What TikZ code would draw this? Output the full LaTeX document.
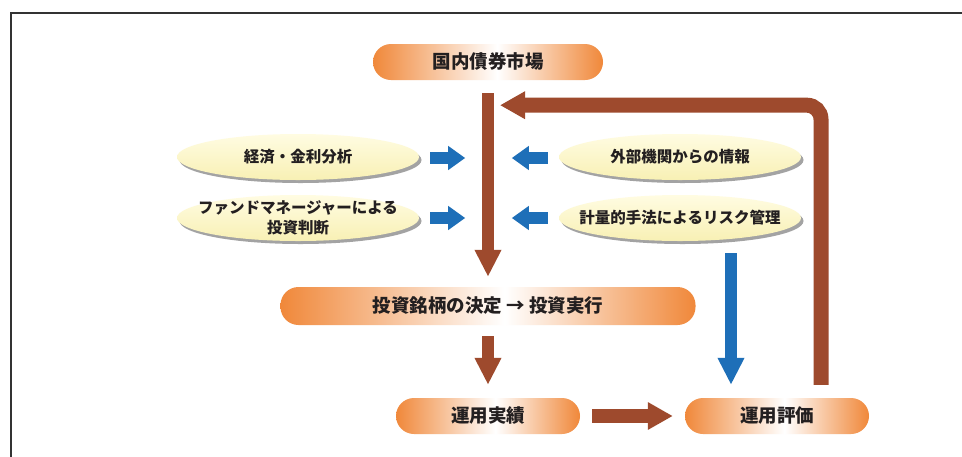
\documentclass[tikz,border=0pt]{standalone}
\usepackage{fontspec}
\newfontfamily\jp{Noto Sans CJK JP}
\usetikzlibrary{shapes.geometric,arrows.meta,calc,shadows}
\definecolor{pillor}{HTML}{F0883A}
\definecolor{brownar}{HTML}{9E4A2D}
\definecolor{bluear}{HTML}{1E6FB8}
\definecolor{txt}{HTML}{231F20}
\definecolor{elltop}{HTML}{FFFCE2}
\definecolor{ellbot}{HTML}{F8F0B4}
\definecolor{ellshadow}{HTML}{A3A3A3}
\definecolor{framec}{HTML}{333333}
\pgfdeclarehorizontalshading{pillshade}{100bp}{color(0bp)=(pillor); color(25bp)=(pillor); color(52bp)=(white); color(75bp)=(pillor); color(100bp)=(pillor)}
\begin{document}
\begin{tikzpicture}[x=1pt,y=-1pt,
  pill/.style={rectangle, shading=pillshade, rounded corners=18pt, minimum height=36pt, inner sep=0pt, text=txt, font=\jp\fontsize{18.5}{20}\selectfont\bfseries},
  oval/.style={ellipse, top color=elltop, bottom color=ellbot, minimum width=242pt, minimum height=46pt, inner xsep=-80pt, inner ysep=-20pt, align=center, text=txt, font=\jp\fontsize{15.5}{18}\selectfont\bfseries, general shadow={fill=ellshadow, shadow xshift=2.5pt, shadow yshift=-3pt}},
  barrow/.style={draw=brownar, line width=12pt, -{Triangle[length=27pt,width=25pt]}},
  bluedown/.style={draw=bluear, line width=12pt, -{Triangle[length=27pt,width=25pt]}},
  bluearrow/.style={draw=bluear, line width=12pt, -{Triangle[length=17pt,width=23pt]}},
  retarrow/.style={draw=brownar, line width=15pt, rounded corners=14pt, -{Triangle[length=25pt,width=26pt]}},
  harrow/.style={draw=brownar, line width=14pt, -{Triangle[length=25pt,width=26pt]}}
]
\useasboundingbox (0,0) rectangle (962,456);
\fill[white] (0,0) rectangle (962,456);
\draw[line width=2pt, framec] (11,470) -- (11,13) -- (975,13);

\node[pill, minimum width=230pt] (top) at (488,62) {国内債券市場};
\node[pill, minimum width=415pt, minimum height=38pt] (exec) at (488,306) {投資銘柄の決定 → 投資実行};
\node[pill, minimum width=184pt] (perf) at (488,416) {運用実績};
\node[pill, minimum width=184pt] (eval) at (777,416) {運用評価};

\node[oval] (e1) at (298,157) {経済・金利分析};
\node[oval] (e2) at (298,218) {ファンドマネージャーによる\\[2pt]投資判断};
\node[oval] (e3) at (680,157) {外部機関からの情報};
\node[oval] (e4) at (680,218) {計量的手法によるリスク管理};

\draw[barrow] ($(top.south)+(0,13)$) -- ($(exec.north)+(0,-10)$);
\draw[barrow] ($(exec.south)+(0,11)$) -- ($(perf.north)+(0,-13)$);
\draw[harrow] ($(perf.east)+(12,0)$) -- ($(eval.west)+(-12,0)$);
\draw[retarrow] ($(eval.north)+(44,-13)$) |- ($(top.south)+(12,25)$);
\draw[bluedown] ($(e4.south)+(51,12)$) -- ($(eval.north)+(-46,-13)$);

\draw[bluearrow] ($(e1.east)+(11,1)$) -- ($(e1.east)+(46,1)$);
\draw[bluearrow] ($(e2.east)+(11,0)$) -- ($(e2.east)+(46,0)$);
\draw[bluearrow] ($(e3.west)+(-11,1)$) -- ($(e3.west)+(-47,1)$);
\draw[bluearrow] ($(e4.west)+(-11,0)$) -- ($(e4.west)+(-47,0)$);
\end{tikzpicture}
\end{document}
